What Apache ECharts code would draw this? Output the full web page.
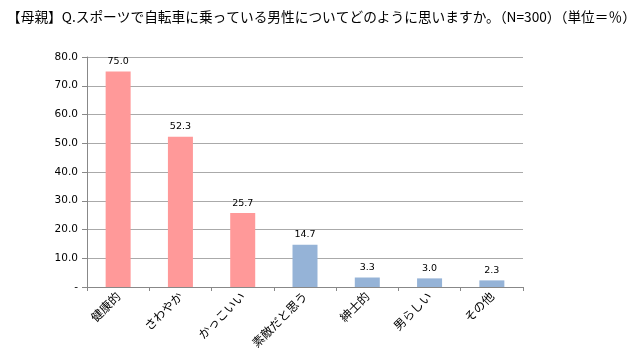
<!DOCTYPE html>
<html><head><meta charset="utf-8">
<script src="https://cdn.jsdelivr.net/npm/echarts@6/dist/echarts.min.js"></script>
<style>html,body{margin:0;padding:0;background:#fff}#c{width:640px;height:356px}</style>
</head><body><div id="c"></div>
<script>
const titleText = '【母親】Q.スポーツで自転車に乗っている男性についてどのように思いますか。（N=300）（単位＝％）';
const categories = ['健康的','さわやか','かっこいい','素敵だと思う','紳士的','男らしい','その他'];
const values = [75.0, 52.3, 25.7, 14.7, 3.3, 3.0, 2.3];
const highlightCount = 3;
const pink = '#FF9999', blue = '#95B3D7';
const chart = echarts.init(document.getElementById('c'));
chart.setOption({
  animation:false,
  backgroundColor:'#fff',
  textStyle:{fontFamily:'"Noto Sans CJK JP", sans-serif'},
  title:{text:titleText,left:2,top:5,textStyle:{fontSize:13.7,fontWeight:'normal',color:'#000',fontFamily:'"Noto Sans CJK JP", sans-serif'}},
  grid:{left:87,right:117,top:57,bottom:69},
  xAxis:{type:'category',data:categories,
    axisLine:{lineStyle:{color:'#888',width:1}},
    axisTick:{show:true,alignWithLabel:false,length:4,lineStyle:{color:'#888'}},
    axisLabel:{rotate:45,fontSize:12,color:'#000',margin:7,interval:0,fontFamily:'"Noto Sans CJK JP", sans-serif'}},
  yAxis:{type:'value',min:0,max:80,interval:10,
    axisLine:{show:true,lineStyle:{color:'#888'}},
    axisTick:{show:true,inside:false,length:5,lineStyle:{color:'#888'}},
    splitLine:{lineStyle:{color:'#AAAAAA',width:1}},
    axisLabel:{fontSize:10.5,color:'#000',margin:9,fontFamily:'"DejaVu Sans", sans-serif',
      formatter:v=>v===0?'-':v.toFixed(1)}},
  series:[{type:'bar',barWidth:25,
    data:values.map((v,i)=>({value:v,itemStyle:{color:i<highlightCount?pink:blue}})),
    label:{show:true,position:'top',fontSize:9.5,color:'#000',distance:5,fontFamily:'"DejaVu Sans", sans-serif',formatter:p=>p.value.toFixed(1)}
  }]
});
</script></body></html>
